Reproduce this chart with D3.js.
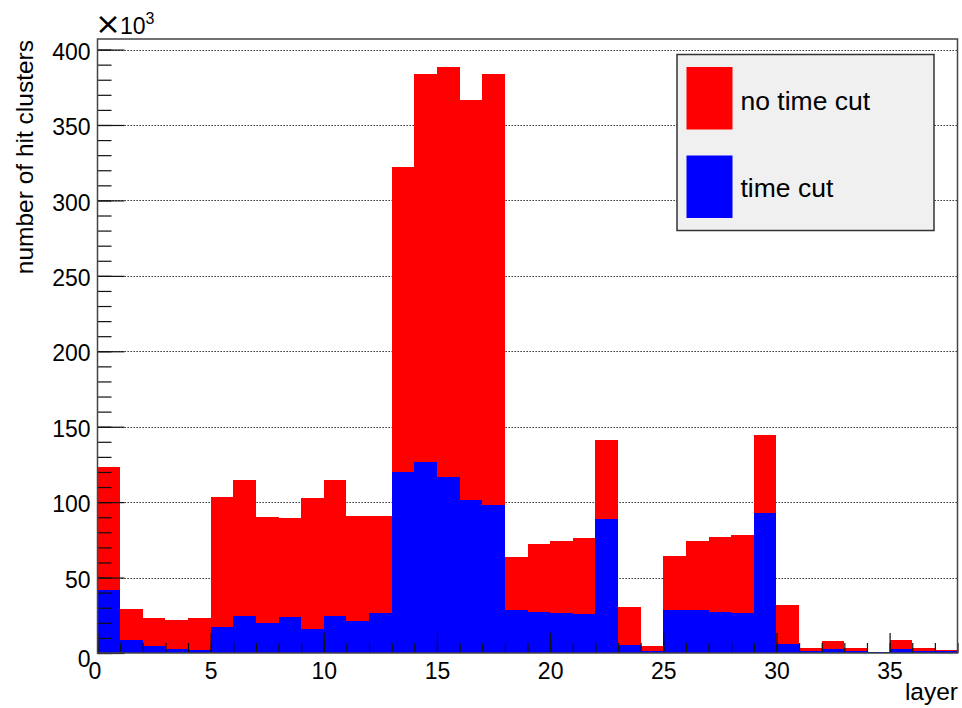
<!DOCTYPE html>
<html>
<head>
<meta charset="utf-8">
<script src="https://cdn.jsdelivr.net/npm/d3@7"></script>
<style>
  html, body { margin: 0; padding: 0; background: #fff; }
  svg { display: block; font-family: "Liberation Sans", Arial, Helvetica, sans-serif; }
</style>
</head>
<body>
<svg id="chart" width="962" height="708"></svg>
<script>
// Hit clusters per layer (in thousands), one bin per layer 0..37
const layers = d3.range(0, 38);
const noTimeCut = [123.5, 29, 23, 22, 23, 103.6, 114.9, 90.1, 89.2, 102.9,
                   114.9, 91, 91, 322.3, 383.5, 388.3, 366.3, 384.1, 63.8, 72.4,
                   74, 76.4, 141.2, 30.7, 4.4, 64.1, 74, 76.7, 78.4, 144.5,
                   31.6, 3.5, 8, 3.5, 0.9, 8.6, 3.5, 2];
const timeCut   = [41.7, 8.6, 4.6, 2.6, 1.8, 17, 24.7, 19.9, 23.9, 16.1,
                   24.7, 21.2, 26.5, 120, 126.8, 116.4, 101.4, 97.9, 28.3, 27.4,
                   26.5, 26, 88.6, 5.3, 1.1, 28.5, 28.5, 27.4, 26.7, 92.6,
                   6.2, 1.1, 2.6, 1.1, 0.9, 2.6, 1.1, 1.3];
const seriesNames = ["no time cut", "time cut"];
const seriesColors = ["#ff0000", "#0000ff"];
const xMajorTicks = [0, 5, 10, 15, 20, 25, 30, 35];
const yMajorTicks = [0, 50, 100, 150, 200, 250, 300, 350, 400];

const svg = d3.select("#chart");
const L = 97.5, R = 957.5, T = 39, B = 653;

const x = d3.scaleLinear().domain([0, 38]).range([L, R]);
const y = d3.scaleLinear().domain([0, 407]).range([B, T]);

// horizontal dotted grid at major y ticks
svg.append("g")
  .selectAll("line")
  .data(yMajorTicks.filter(d => d > 0))
  .join("line")
  .attr("x1", L).attr("x2", R)
  .attr("y1", d => Math.round(y(d)) + 0.5).attr("y2", d => Math.round(y(d)) + 0.5)
  .attr("stroke", "#111").attr("stroke-width", 1)
  .attr("stroke-dasharray", "1.3,1.7");

// histograms: "no time cut" first, "time cut" overlaid on top
function drawHist(values, color) {
  svg.append("g")
    .selectAll("rect")
    .data(layers)
    .join("rect")
    .attr("x", d => x(d))
    .attr("width", d => x(d + 1) - x(d))
    .attr("y", d => y(values[d]))
    .attr("height", d => y(0) - y(values[d]))
    .attr("fill", color)
    .attr("shape-rendering", "crispEdges");
}
drawHist(noTimeCut, seriesColors[0]);
drawHist(timeCut, seriesColors[1]);

// y axis: major + minor ticks pointing into the frame
const yMinor = d3.axisLeft(y).tickValues(d3.range(0, 407, 10))
  .tickSizeInner(-14).tickSizeOuter(0).tickFormat("");
svg.append("g").attr("transform", `translate(${L},0)`).call(yMinor)
  .call(g => g.select(".domain").remove())
  .selectAll("line").attr("stroke", "#111").attr("stroke-width", 1.2);

const yAxis = d3.axisLeft(y).tickValues(yMajorTicks)
  .tickSizeInner(-27).tickSizeOuter(0).tickPadding(7).tickFormat(d3.format("d"));
const gy = svg.append("g").attr("transform", `translate(${L},0)`).call(yAxis);
gy.select(".domain").remove();
gy.selectAll("line").attr("stroke", "#111").attr("stroke-width", 1.2);
gy.selectAll("text").attr("fill", "#000").attr("font-size", 23)
  .attr("font-family", "Liberation Sans, Arial, sans-serif")
  .attr("dy", d => d === 0 ? "0.6em" : "0.42em");

// x axis: minor tick per layer, major every 5
const xMinor = d3.axisBottom(x).tickValues(d3.range(0, 39, 1))
  .tickSizeInner(-10).tickSizeOuter(0).tickFormat("");
svg.append("g").attr("transform", `translate(0,${B})`).call(xMinor)
  .call(g => g.select(".domain").remove())
  .selectAll("line").attr("stroke", "#111").attr("stroke-width", 1.2);

const xAxis = d3.axisBottom(x).tickValues(xMajorTicks)
  .tickSizeInner(-20).tickSizeOuter(0).tickPadding(10).tickFormat(d3.format("d"));
const gx = svg.append("g").attr("transform", `translate(0,${B})`).call(xAxis);
gx.select(".domain").remove();
gx.selectAll("line").attr("stroke", "#111").attr("stroke-width", 1.2);
gx.selectAll("text").attr("fill", "#000").attr("font-size", 23)
  .attr("font-family", "Liberation Sans, Arial, sans-serif")
  .attr("dx", d => d === 0 ? "-3" : "0");

// frame
svg.append("rect")
  .attr("x", L).attr("y", T).attr("width", R - L).attr("height", B - T)
  .attr("fill", "none").attr("stroke", "#444").attr("stroke-width", 1.5);

// exponent marker above the y axis
const exp = svg.append("text").attr("x", 95).attr("y", 34)
  .attr("font-size", 23).attr("fill", "#000");
exp.append("tspan").attr("font-family", "DejaVu Sans").attr("font-size", 31).text("\u00d7");
exp.append("tspan").attr("dx", -1).text("10");
exp.append("tspan").attr("font-size", 16).attr("dy", -10).text("3");

// axis titles
svg.append("text")
  .attr("transform", `translate(33,40) rotate(-90)`)
  .attr("text-anchor", "end").attr("font-size", 24.5).attr("fill", "#000")
  .text("number of hit clusters");
svg.append("text")
  .attr("x", 958).attr("y", 700).attr("text-anchor", "end")
  .attr("font-size", 24.5).attr("fill", "#000")
  .text("layer");

// legend
const lg = svg.append("g");
lg.append("rect").attr("x", 677).attr("y", 54.5).attr("width", 257).attr("height", 176)
  .attr("fill", "#f0f0f0").attr("stroke", "#333").attr("stroke-width", 1.5);
const legendRows = [{ y: 67, base: 110 }, { y: 155.5, base: 197 }];
legendRows.forEach((r, i) => {
  lg.append("rect").attr("x", 686.5).attr("y", r.y).attr("width", 46).attr("height", 62.5)
    .attr("fill", seriesColors[i]);
  lg.append("text").attr("x", 740.5).attr("y", r.base)
    .attr("font-size", 26.5).attr("fill", "#000").text(seriesNames[i]);
});
</script>
</body>
</html>
